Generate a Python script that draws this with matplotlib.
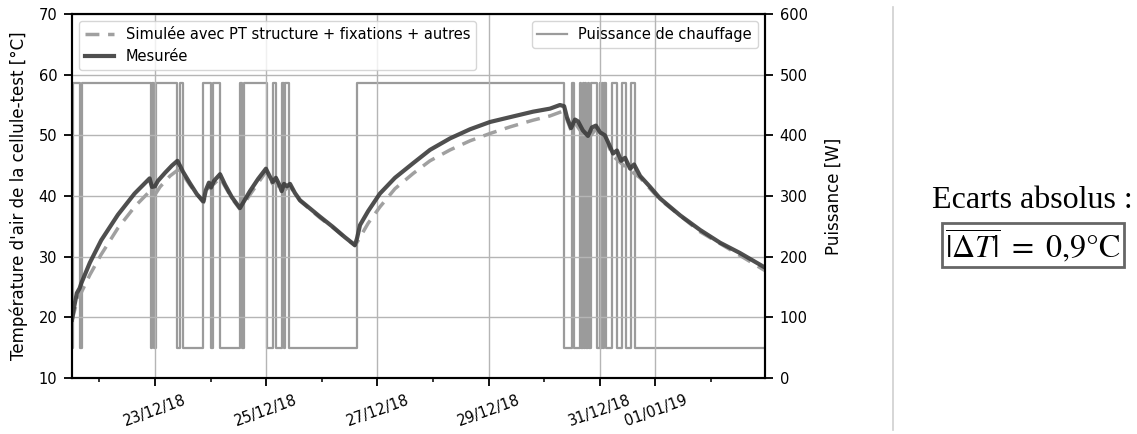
import numpy as np
import pandas as pd
import matplotlib as mpl
mpl.use("Agg")
import matplotlib.pyplot as plt
import matplotlib.dates as mdates

mpl.rcParams.update({"font.family": "DejaVu Sans", "mathtext.fontset": "stix"})

T0 = pd.Timestamp("2018-12-21 00:00")

# heating power: step changes (hours since 21/12/18 00:00) and level after each change [W]
p_hours = [12.2, 12.8, 15.8, 16.7, 46.1, 46.7, 47.4, 48.6, 57.7, 58.8, 60.0,
           68.9, 72.0, 73.2, 76.1, 84.7, 85.6, 86.4, 96.2, 98.8, 100.2, 102.7,
           103.5, 104.1, 106.0, 135.1, 224.7, 227.9, 229.0, 231.5, 231.9,
           232.6, 233.0, 233.7, 234.1, 234.8, 235.2, 236.4, 238.6, 239.9,
           240.3, 241.0, 241.4, 242.0, 242.5, 245.2, 247.3, 249.5, 251.3,
           253.4, 255.2, 311.3]
p_watts = [50, 487, 50, 487, 50, 487, 50, 487, 50, 487, 50,
           487, 50, 487, 50, 487, 50, 487, 50, 487, 50, 487,
           50, 487, 50, 487, 50, 487, 50, 487, 50,
           487, 50, 487, 50, 487, 50, 487, 50, 487,
           50, 487, 50, 487, 50, 487, 50, 487, 50,
           487, 50, 50]

# measured air temperature of the test cell [°C]
m_hours = [12.2, 13.0, 14.3, 15.5, 16.2, 19.9, 24.8, 32.0, 39.2, 45.7, 46.7,
           48.0, 49.3, 52.3, 55.3, 57.7, 58.8, 60.1, 63.1, 66.1, 68.9, 70.0,
           71.3, 72.2, 73.5, 76.1, 78.2, 81.2, 84.7, 85.6, 89.0, 92.5, 95.9,
           97.2, 98.8, 100.2, 101.5, 102.7, 103.7, 105.0, 106.3, 108.4, 110.6,
           119.2, 124.8, 130.0, 134.3, 135.2, 136.5, 140.0, 145.1, 151.6,
           159.4, 166.7, 175.4, 184.0, 192.6, 201.3, 211.2, 218.5, 222.8,
           224.6, 225.8, 227.6, 229.3, 230.6, 232.7, 234.9, 236.6, 238.3,
           240.1, 242.2, 244.0, 245.7, 247.4, 249.2, 250.9, 253.1, 254.8,
           257.4, 261.7, 266.0, 274.7, 283.3, 291.9, 300.5, 311.3]
m_temp = [19.6, 21.5, 24.0, 24.8, 25.6, 29.0, 32.7, 36.9, 40.4, 42.9, 41.5,
          41.6, 42.5, 43.8, 45.0, 45.8, 45.0, 44.0, 42.1, 40.3, 39.1, 41.0,
          42.2, 41.4, 42.5, 43.6, 41.9, 39.8, 38.0, 38.6, 40.8, 42.8, 44.5,
          43.5, 42.3, 43.0, 42.0, 40.8, 42.0, 41.6, 42.0, 40.5, 39.3,
          36.6, 34.9, 33.2, 31.9, 33.0, 35.2, 37.5, 40.4, 43.0,
          45.4, 47.6, 49.5, 51.0, 52.2, 53.0, 53.9, 54.4, 55.0,
          54.8, 53.0, 51.2, 52.6, 52.3, 50.8, 49.9, 51.3, 51.6,
          50.5, 50.0, 48.5, 47.0, 47.5, 45.8, 46.3, 44.5, 45.2,
          43.3, 41.5, 39.6, 36.8, 34.4, 32.3, 30.6, 28.2]

# simulated air temperature (PT structure + fixations + autres) [°C]
s_hours = [12.2, 13.9, 16.1, 19.9, 24.7, 32.0, 39.4, 45.8, 48.0, 50.2, 54.5,
           57.9, 58.8, 60.1, 63.1, 68.9, 71.3, 73.5, 76.1, 81.2, 84.7, 89.0,
           95.9, 98.8, 100.2, 102.7, 105.0, 106.3, 110.6, 119.2, 124.8, 134.3,
           135.6, 140.0, 145.1, 151.6, 159.4, 166.7, 175.4, 184.0, 192.6,
           201.3, 211.2, 218.5, 224.2, 225.8, 227.6, 229.3, 232.7, 234.9,
           238.3, 242.2, 245.7, 249.2, 253.1, 257.4, 266.0, 283.3, 300.5, 311.3]
s_temp = [19.5, 22.0, 24.0, 27.0, 30.3, 34.7, 38.3, 40.8, 40.2, 41.5, 43.3,
          44.3, 44.2, 43.5, 41.8, 38.9, 41.7, 42.0, 43.0, 39.6, 37.8, 40.2,
          44.0, 42.0, 42.5, 40.5, 41.3, 41.6, 39.2, 36.4, 34.8, 31.8,
          32.6, 35.5, 38.2, 41.2, 43.7, 45.8, 47.6, 49.1, 50.3,
          51.4, 52.5, 53.2, 54.0, 52.6, 50.8, 52.0, 50.2, 49.4,
          51.0, 49.6, 46.6, 45.4, 44.2, 43.0, 39.4, 34.1, 30.2, 27.7]


def to_dates(hours):
    return T0 + pd.to_timedelta(np.asarray(hours), unit="h")


fig = plt.figure(figsize=(11.37, 4.34), dpi=100)
ax = fig.add_axes([72 / 1137, 1 - 378 / 434, 693 / 1137, 364 / 434])
ax2 = ax.twinx()
ax.set_zorder(ax2.get_zorder() + 1)
ax.patch.set_visible(False)

pd_ = to_dates(p_hours)
ax2.plot(pd_, p_watts, drawstyle="steps-post", color="#8a8a8a", lw=1.6,
         alpha=0.85, label="Puissance de chauffage")
ax2.set_ylim(0, 600)
ax2.set_ylabel("Puissance [W]", fontsize=12, labelpad=12)

ax.plot(to_dates(s_hours), s_temp, ls="--", color="#a0a0a0", lw=2.5,
        dashes=(4, 2.5), label="Simulée avec PT structure + fixations + autres")
ax.plot(to_dates(m_hours), m_temp, color="#3c3c3c", lw=3, alpha=0.9,
        label="Mesurée")
ax.set_ylim(10, 70)
ax.set_xlim(pd_[0], pd_[-1])
ax.set_ylabel("Température d'air de la cellule-test [°C]", fontsize=12,
              labelpad=8)

ax.xaxis.set_major_locator(mdates.DayLocator(bymonthday=range(1, 32, 2)))
ax.xaxis.set_minor_locator(mdates.DayLocator())
ax.xaxis.set_major_formatter(mdates.DateFormatter("%d/%m/%y"))
ax.grid(True, which="major", color="#b5b5b5", lw=1)
for a in (ax, ax2):
    a.tick_params(which="major", labelsize=10.5, length=5.5, width=1.3, pad=5)
    a.tick_params(which="minor", length=3, width=1.1)
    for s in a.spines.values():
        s.set_linewidth(1.5)
for lab in ax.get_xticklabels():
    lab.set_rotation(20)

leg = ax.legend(loc="upper left", fontsize=10.5, framealpha=0.8)
leg2 = ax2.legend(loc="upper right", fontsize=10.5, framealpha=0.8)

fig.add_artist(plt.Line2D([893 / 1137, 893 / 1137], [1 - 430 / 434, 1 - 7 / 434],
                          color="#cfcfcf", lw=1.2))
fig.text(1032 / 1137, 1 - 200 / 434, "Ecarts absolus :", ha="center",
         va="center", fontsize=23, family="Liberation Serif")
fig.text(1033 / 1137, 1 - 245 / 434,
         r"$\overline{|\mathit{\Delta T}|}$ $=$ 0,9°C",
         ha="center", va="center", fontsize=23, family="STIXGeneral",
         bbox=dict(boxstyle="square,pad=0.08", fc="white", ec="#666666", lw=2))

fig.savefig("out.png", dpi=100)
